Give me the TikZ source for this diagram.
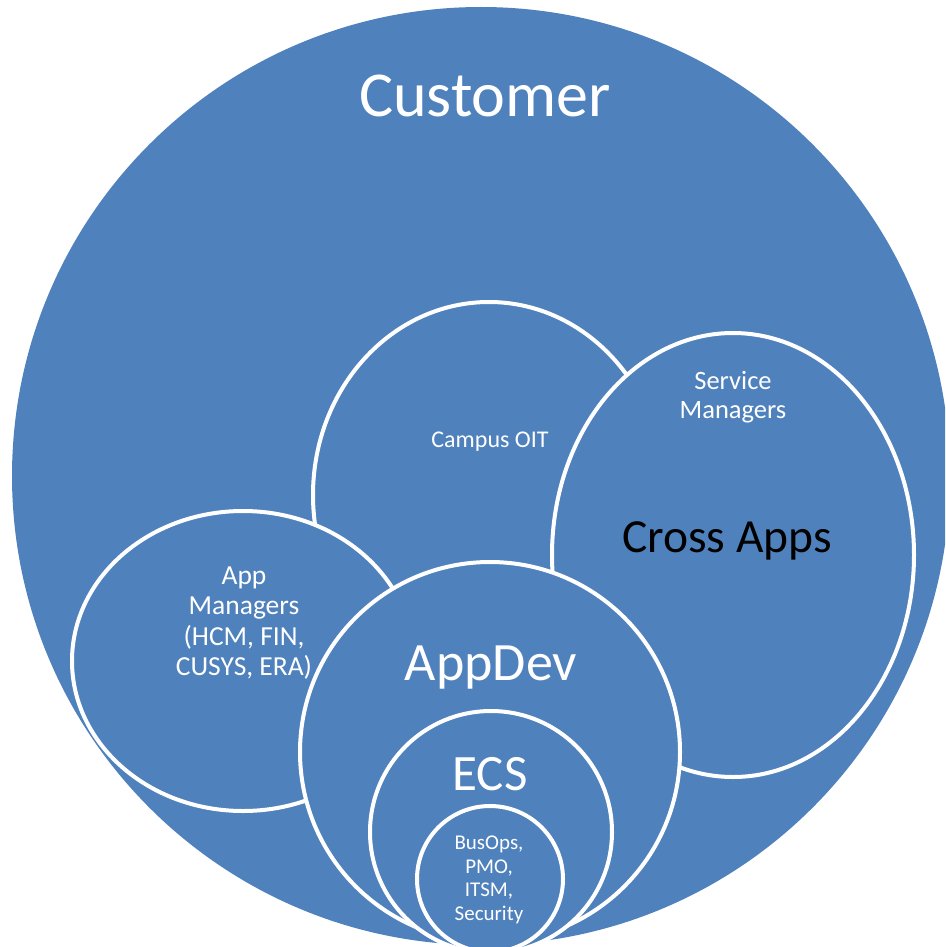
\documentclass[tikz,border=0pt]{standalone}
\usepackage{fontspec}
\setmainfont{Carlito}
\usetikzlibrary{shapes.geometric}
\definecolor{RingBlue}{RGB}{79,129,189}
\tikzset{
  ring/.style={ellipse, draw=white, line width=4pt, fill=RingBlue, inner sep=0pt},
  ring label/.style={text=white, align=center, inner sep=0pt},
  big label/.style={ring label, anchor=base}
}
\begin{document}
\begin{tikzpicture}[x=1pt,y=-1pt]
\useasboundingbox (0,0) rectangle (945,947);
\clip (0,0) rectangle (945,947);
% circles, back to front
\node[ring, draw=none, minimum width=938pt, minimum height=938pt] (customer) at (481,476) {};
\node[ring, minimum width=352pt, minimum height=386pt] (campus) at (489,495) {};
\node[ring, minimum width=362pt, minimum height=444pt] (crossapps) at (733,555) {};
\node[ring, minimum width=342pt, minimum height=300pt] (appmgr) at (243,661) {};
\node[ring, minimum size=380pt] (appdev) at (490,752) {};
\node[ring, minimum size=242pt] (ecs) at (491,832) {};
\node[ring, minimum size=146pt] (busops) at (490,879) {};
% labels
\node[big label, font=\fontsize{64}{76}\selectfont] (customer-t) at (485,117) {Customer};
\node[big label, font=\fontsize{24}{29}\selectfont] (campus-t) at (490,447) {Campus OIT};
\node[ring label, font=\fontsize{26.5}{29}\selectfont] (service-t) at (733,397) {Service\\Managers};
\node[big label, text=black, font=\fontsize{47.5}{57}\selectfont] (crossapps-t) at (727,552) {Cross Apps};
\node[ring label, font=\fontsize{27.5}{30.5}\selectfont] (appmgr-t) at (244,623) {App\\Managers\\(HCM, FIN,\\CUSYS, ERA)};
\node[big label, font=\fontsize{54}{64}\selectfont] (appdev-t) at (491,680) {AppDev};
\node[big label, font=\fontsize{51}{61}\selectfont] (ecs-t) at (490,790) {ECS};
\node[ring label, font=\fontsize{21}{23.5}\selectfont] (busops-t) at (489,880) {BusOps,\\PMO,\\ITSM,\\Security};
\end{tikzpicture}
\end{document}
